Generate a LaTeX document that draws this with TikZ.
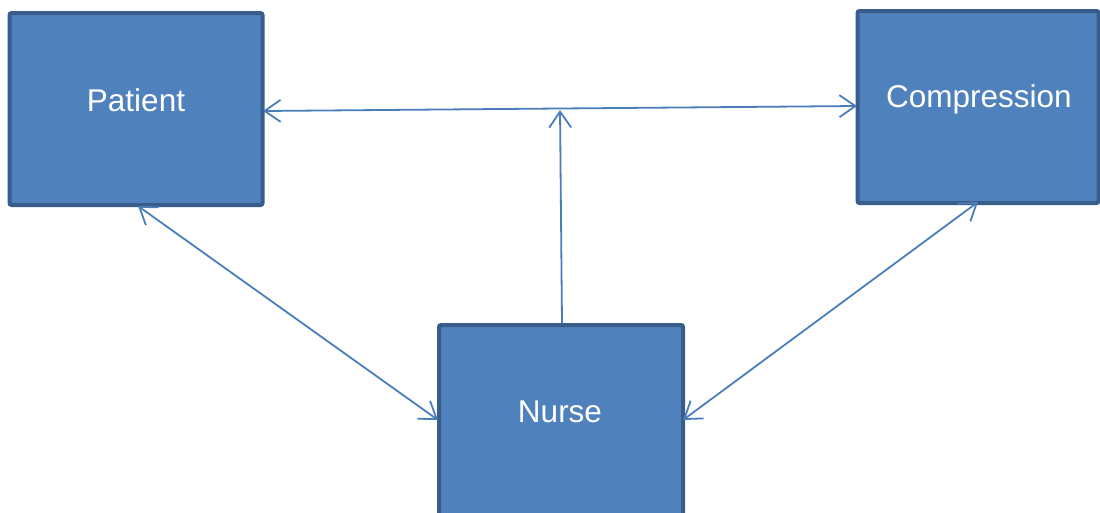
\documentclass[tikz,border=0pt]{standalone}
\usepackage{fontspec}
\setmainfont{Liberation Sans}
\usetikzlibrary{arrows.meta}
\definecolor{boxfill}{HTML}{4F81BD}
\definecolor{boxedge}{HTML}{385D8A}
\definecolor{linkcol}{HTML}{4A7EBB}
\tikzset{
  barb/.tip={Straight Barb[length=16pt,width=22pt,line width=1.8pt]},
  box/.style={draw=boxedge, fill=boxfill, line width=4pt, rounded corners=2pt,
    minimum width=#1, minimum height=192pt, inner sep=0pt},
  box/.default=250pt,
  lbl/.style={text=white, font=\fontsize{31.5}{36}\selectfont, inner sep=0pt},
  link/.style={draw=linkcol, line width=1.8pt, arrows={barb-barb}},
  uplink/.style={draw=linkcol, line width=1.8pt, arrows={-barb}}
}
\begin{document}
\begin{tikzpicture}[x=1pt,y=-1pt]
  \useasboundingbox (0,0) rectangle (1100,512);
  \clip (0,0) rectangle (1100,512);
  \fill[white] (0,0) rectangle (1100,512);
  % the three boxes
  \node[box=253pt] (patient) at (136,109) {};
  \node[box=241pt] (compression) at (978,107) {};
  \node[box=244pt] (nurse) at (561,421) {};
  \node[lbl] (tpatient) at (136,100) {Patient};
  \node[lbl] (tcompression) at (979,99) {Compression};
  \node[lbl] (tnurse) at (560,412) {Nurse};
  % end points of the links on the box edges
  \coordinate (pR) at (263,111);
  \coordinate (cL) at (857,106);
  \coordinate (pB) at (138,206);
  \coordinate (cB) at (978,202);
  \coordinate (nL) at (438,420);
  \coordinate (nR) at (683,420);
  \coordinate (nT) at (562,323);
  \coordinate (mid) at (560,110);
  % links
  \draw[link] (pR) -- (cL);
  \draw[uplink] (nT) -- (mid);
  \draw[link] (pB) -- (nL);
  \draw[link] (cB) -- (nR);
\end{tikzpicture}
\end{document}
